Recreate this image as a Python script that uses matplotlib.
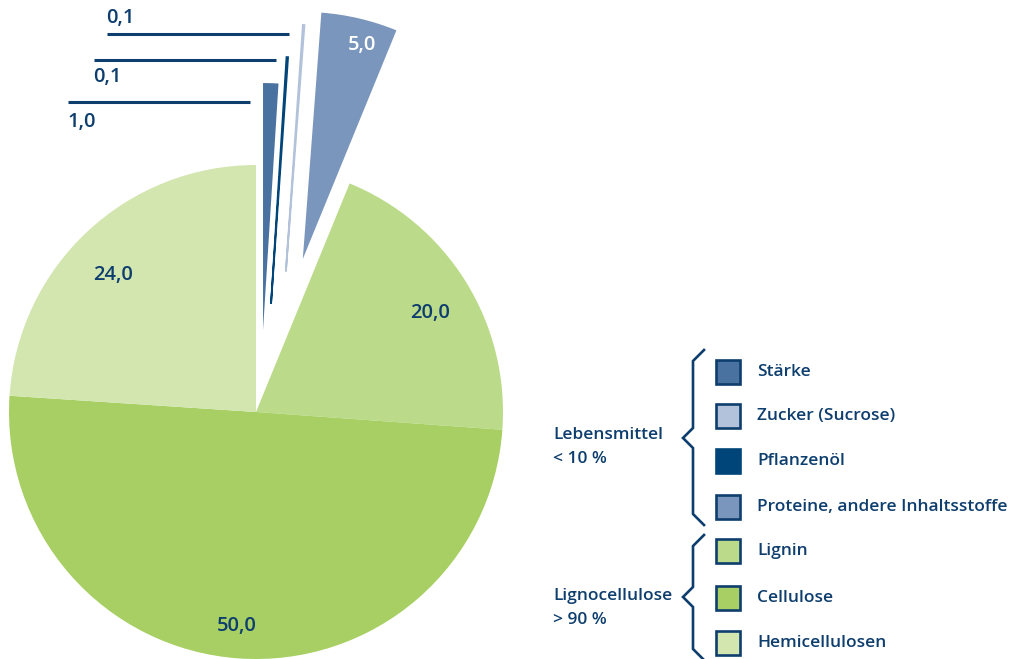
import matplotlib.pyplot as plt
import numpy as np

plt.rcParams['font.family'] = ['Open Sans', 'DejaVu Sans']

# Anteile in Prozent, Reihenfolge im Uhrzeigersinn ab 12 Uhr
slice_names = ["Stärke", "Pflanzenöl", "Zucker (Sucrose)", "Proteine, andere Inhaltsstoffe",
               "Lignin", "Cellulose", "Hemicellulosen"]
slice_values = [1.0, 0.1, 0.1, 5.0, 20.0, 50.0, 24.0]

# herausgezogene Segmente: Abstand (in Radien) und Richtung (Grad im Uhrzeigersinn ab oben)
pull_dist = [0.333, 0.443, 0.582, 0.648, 0, 0, 0]
pull_dir = [4.9, 7.9, 12.0, 17.0, 0, 0, 0]

legend_names = ["Stärke", "Zucker (Sucrose)", "Pflanzenöl", "Proteine, andere Inhaltsstoffe",
                "Lignin", "Cellulose", "Hemicellulosen"]
group_labels = ["Lebensmittel\n< 10 %", "Lignocellulose\n> 90 %"]

colors = {
    "Stärke": "#4a72a0",
    "Zucker (Sucrose)": "#b2c2da",
    "Pflanzenöl": "#00457a",
    "Proteine, andere Inhaltsstoffe": "#7b96bc",
    "Lignin": "#bcdb8a",
    "Cellulose": "#a7cf63",
    "Hemicellulosen": "#d3e6b0",
}
navy = "#0e3e6e"

W, H = 1012, 659
cx, cy, R = 256, 412, 247

fig = plt.figure(figsize=(W / 100, H / 100), dpi=100)

# pie axes: radius 1, scaled so that one unit = R pixels
pax = fig.add_axes([0, 0, 1, 1])
wedges, _ = pax.pie(slice_values, colors=[colors[n] for n in slice_names],
                    startangle=90, counterclock=False,
                    wedgeprops=dict(linewidth=0))
for w, d, a in zip(wedges, pull_dist, pull_dir):
    if d:
        w.set_center((d * np.sin(np.deg2rad(a)), d * np.cos(np.deg2rad(a))))
# the 0.1 % slivers get a thin outline so they stay visible
for w, v in zip(wedges, slice_values):
    if v < 0.5:
        w.set_edgecolor(w.get_facecolor())
        w.set_linewidth(1.3)
pax.set_xlim(-cx / R, (W - cx) / R)
pax.set_ylim(-(H - cy) / R, cy / R)
pax.set_aspect('equal')
pax.axis('off')

def fmt(v):
    return f"{v:.1f}".replace(".", ",")

# value labels inside the larger slices (distance, angle shift in degrees)
inside = {3: (0.90, -2.1, "white"), 4: (0.81, -2.2, navy),
          5: (0.87, -1.1, navy), 6: (0.80, 3.1, navy)}
for i, (dist, shift, col) in inside.items():
    w = wedges[i]
    mid = np.deg2rad((w.theta1 + w.theta2) / 2 + shift)
    x = w.center[0] + dist * w.r * np.cos(mid)
    y = w.center[1] + dist * w.r * np.sin(mid)
    pax.text(x, y, fmt(slice_values[i]), color=col, fontsize=14.5,
             fontweight='semibold', ha='center', va='center')

# overlay axes in pixel coordinates for leader lines and legend
ax = fig.add_axes([0, 0, 1, 1])
ax.set_xlim(0, W)
ax.set_ylim(H, 0)
ax.axis('off')

# small slices: label above a leader line
small = [(2, 107, 289, 34, 18), (1, 94, 276, 60, 77), (0, 68, 250, 102, 122)]
for i, x0, x1, ly, ty in small:
    ax.plot([x0, x1], [ly, ly], color=navy, lw=2.2, solid_capstyle='butt')
    ax.text(x0 - 1, ty, fmt(slice_values[i]), color=navy, fontsize=14.5,
            fontweight='semibold', ha='left', va='center')

# legend
box_x, box_s = 716, 24
text_x = 757
row_y = [372, 416, 461, 507, 551, 598, 643]
for name, y in zip(legend_names, row_y):
    edge = navy if name != "Pflanzenöl" else colors[name]
    ax.add_patch(plt.Rectangle((box_x, y - box_s / 2), box_s, box_s,
                               facecolor=colors[name], edgecolor=edge, lw=1.9))
    ax.text(text_x, y, name, color=navy, fontsize=12.5, fontweight='semibold',
            ha='left', va='center')

# curly braces grouping the legend
def brace(top, bottom, mid):
    xs = [704, 693, 693, 683, 693, 693, 704]
    ys = [top, top + 11, mid - 10, mid, mid + 10, bottom - 11, bottom]
    ax.plot(xs, ys, color=navy, lw=1.9, solid_joinstyle='miter')

brace(350, 525, 438)
brace(535, 660, 597)

for label, y in zip(group_labels, [447, 608]):
    ax.text(553, y, label, color=navy, fontsize=12.5, fontweight='semibold',
            ha='left', va='center', linespacing=1.6)

fig.savefig("out.png", dpi=100)
